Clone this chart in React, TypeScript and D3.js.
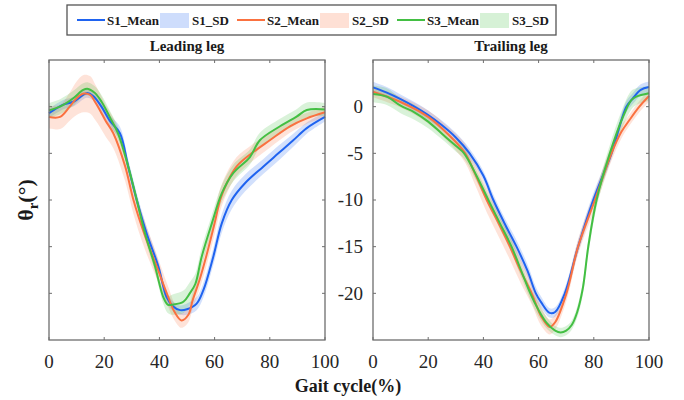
import React from 'react';
import * as d3 from 'd3';

// gait cycle (%) sample positions and joint angle (deg)
const leadS1Pct = [0, 5, 9, 13.7, 16, 19, 22, 25.7, 28.7, 31.8, 35.4, 39.6, 42.6, 45, 47.5, 50, 53.5, 56, 59.5, 62.6, 66.2, 71, 77.7, 83.1, 88.5, 93.4, 100];
const leadS1Mean = [-0.7, 0.2, 0.55, 1.45, 1.15, 0, -1.5, -2.85, -6.4, -10, -13.6, -17.1, -20.4, -21.4, -21.8, -21.7, -21.1, -19.6, -16.1, -12.5, -10, -8.2, -6.4, -5, -3.6, -2.3, -1.1];
const leadS1Sd = [0.5, 0.5, 0.5, 0.5, 0.5, 0.6, 0.6, 0.7, 0.7, 0.7, 0.7, 0.6, 0.6, 0.5, 0.5, 0.6, 0.7, 0.8, 0.9, 1.0, 1.0, 0.9, 0.8, 0.8, 0.7, 0.6, 0.5];

const leadS2Pct = [0, 4, 7.5, 10, 12.5, 15, 16.7, 18.5, 20.5, 23.3, 27.6, 30.6, 34.5, 39, 43.2, 45.5, 48, 50.5, 52, 54.5, 57, 60, 62, 64.4, 68, 73.4, 80, 87.3, 93.4, 100];
const leadS2Mean = [-1.1, -1.1, 0, 0.9, 1.4, 1.25, 0.5, -0.4, -1.5, -2.85, -6.4, -10, -13.6, -17.1, -20.4, -22, -22.9, -22.3, -20.8, -18.6, -16, -12.5, -10, -8.2, -6.4, -5, -3.6, -2.1, -1.25, -0.6];
const leadS2Sd = [1.2, 1.3, 1.5, 1.8, 2.0, 2.0, 1.9, 1.8, 1.7, 1.6, 1.6, 1.5, 1.5, 1.3, 1.1, 0.9, 0.8, 0.8, 0.9, 1.0, 1.1, 1.2, 1.2, 1.1, 1.0, 0.9, 0.8, 0.7, 0.6, 0.6];

const leadS3Pct = [0, 4, 8.8, 12.4, 14.2, 16.7, 19, 22, 25, 28.7, 31.8, 34.8, 38.4, 41.4, 43, 45, 48.7, 51, 53, 55.3, 59, 62.6, 66.8, 72.8, 76.4, 83.7, 89.7, 93.4, 100];
const leadS3Mean = [-0.4, 0, 0.9, 1.8, 1.9, 1.45, 0.55, -1.1, -2.85, -6.4, -10, -13.6, -17.1, -20.4, -21.2, -21.2, -20.9, -20, -19, -16.1, -12.5, -9.3, -7.1, -5.4, -3.6, -2.1, -1.07, -0.36, -0.3];
const leadS3Sd = [0.8, 0.8, 0.8, 0.7, 0.7, 0.7, 0.7, 0.7, 0.7, 0.6, 0.6, 0.6, 0.6, 0.7, 0.9, 1.1, 1.2, 1.2, 1.1, 1.0, 0.9, 0.9, 0.9, 0.8, 0.8, 0.8, 0.8, 0.8, 0.7];

const trailS1Pct = [0, 5, 10, 15, 20, 25, 30, 35, 40, 43.6, 48, 52, 56, 59, 61, 64, 66, 69.5, 74.3, 79.8, 86.4, 91.8, 94.2, 97, 100];
const trailS1Mean = [2.07, 1.5, 0.8, 0, -0.9, -2.0, -3.3, -5, -7.4, -10, -12.7, -15, -17.6, -20, -21, -22.1, -22, -20, -15, -10, -5, 0, 0.9, 1.8, 2.1];
const trailS1Sd = [0.6, 0.6, 0.5, 0.5, 0.5, 0.5, 0.5, 0.5, 0.5, 0.6, 0.6, 0.7, 0.7, 0.7, 0.6, 0.5, 0.5, 0.6, 0.7, 0.7, 0.6, 0.6, 0.6, 0.6, 0.6];

const trailS2Pct = [0, 10, 20, 27, 33.4, 37, 41.2, 45.5, 49.6, 53.5, 57.5, 61, 64, 66, 70.1, 74.3, 80.4, 86.4, 90, 93, 96.5, 100];
const trailS2Mean = [1.6, 0.5, -1.1, -2.9, -5, -7.2, -10, -12.5, -15, -17.6, -20, -22.5, -23.6, -23.1, -20, -15, -10, -5, -2.7, -1.4, 0, 1.14];
const trailS2Sd = [0.6, 0.6, 0.7, 0.8, 1.0, 1.2, 1.3, 1.4, 1.4, 1.3, 1.2, 1.0, 0.8, 0.8, 0.8, 0.8, 0.9, 0.8, 0.7, 0.6, 0.6, 0.6];

const trailS3Pct = [0, 5, 10, 15, 20, 25, 30, 33, 37.5, 41.8, 46, 50.2, 54, 57, 60, 63, 66, 68, 70, 72, 74, 76, 78, 81, 85.8, 90.6, 93.6, 95.4, 100];
const trailS3Mean = [1.36, 1.07, 0.1, -0.6, -1.6, -2.9, -4.2, -5, -7.4, -10, -12.5, -15, -17.8, -20, -21.8, -23.2, -24, -24.2, -24, -23.4, -22, -19.5, -15, -10, -5, -1.07, 0.7, 1.07, 1.43];
const trailS3Sd = [0.9, 0.9, 0.8, 0.8, 0.7, 0.6, 0.6, 0.6, 0.6, 0.6, 0.6, 0.7, 0.7, 0.7, 0.7, 0.6, 0.5, 0.5, 0.5, 0.5, 0.6, 0.7, 0.8, 0.8, 0.9, 1.0, 1.0, 0.9, 0.8];

const gaitTicks = [0, 20, 40, 60, 80, 100];
const angleTicks = [0, -5, -10, -15, -20];
const seriesNames = ['S1', 'S2', 'S3'];
const seriesColors = ['#1f63f0', '#fa7140', '#43bf43'];
const panelTitles = ['Leading leg', 'Trailing leg'];

const serif = "'Liberation Serif', 'Times New Roman', Times, 'DejaVu Serif', serif";
const txt = (size: number, bold = false): React.CSSProperties => ({
  fontFamily: serif,
  fontSize: size + 'px',
  fontWeight: bold ? 'bold' : 'normal',
});

type Pt = { p: number; m: number; s: number };
const zip = (pct: number[], mean: number[], sd: number[]): Pt[] => pct.map((p, i) => ({ p, m: mean[i], s: sd[i] }));

const panels = [
  {
    title: panelTitles[0],
    x0: 49,
    x1: 325,
    labels: false,
    series: [zip(leadS1Pct, leadS1Mean, leadS1Sd), zip(leadS2Pct, leadS2Mean, leadS2Sd), zip(leadS3Pct, leadS3Mean, leadS3Sd)],
  },
  {
    title: panelTitles[1],
    x0: 373,
    x1: 649,
    labels: true,
    series: [zip(trailS1Pct, trailS1Mean, trailS1Sd), zip(trailS2Pct, trailS2Mean, trailS2Sd), zip(trailS3Pct, trailS3Mean, trailS3Sd)],
  },
];

const top = 60;
const bottom = 340;

const Panel = ({ panel }: { panel: typeof panels[0] }) => {
  const x = d3.scaleLinear().domain([0, 100]).range([panel.x0, panel.x1]);
  const y = d3.scaleLinear().domain([-25, 5]).range([bottom, top]);
  const curve = d3.curveCatmullRom.alpha(0.5);
  const line = d3.line<Pt>().x(d => x(d.p)).y(d => y(d.m)).curve(curve);
  const area = d3.area<Pt>().x(d => x(d.p)).y0(d => y(d.m - d.s)).y1(d => y(d.m + d.s)).curve(curve);
  const tl = 3;
  const axisColor = '#6e6e6e';

  return (
    <g>
      {panel.series.map((s, i) => (
        <path key={'a' + i} d={area(s) || ''} fill={seriesColors[i]} fillOpacity={0.2} stroke="none" />
      ))}
      {panel.series.map((s, i) => (
        <path key={'l' + i} d={line(s) || ''} fill="none" stroke={seriesColors[i]} strokeWidth={2} />
      ))}
      <rect x={panel.x0} y={top} width={panel.x1 - panel.x0} height={bottom - top} fill="none" stroke={axisColor} strokeWidth={1.3} />
      {gaitTicks.map(t => (
        <g key={'xt' + t}>
          <line x1={x(t)} x2={x(t)} y1={bottom} y2={bottom - tl} stroke={axisColor} />
          <line x1={x(t)} x2={x(t)} y1={top} y2={top + tl} stroke={axisColor} />
          <text x={x(t)} y={368} textAnchor="middle" style={txt(19)} fill="#262626">{t}</text>
        </g>
      ))}
      {angleTicks.map(t => (
        <g key={'yt' + t}>
          <line x1={panel.x0} x2={panel.x0 + tl} y1={y(t)} y2={y(t)} stroke={axisColor} />
          <line x1={panel.x1} x2={panel.x1 - tl} y1={y(t)} y2={y(t)} stroke={axisColor} />
          {panel.labels && (
            <text x={panel.x0 - 10} y={y(t)} dy="0.34em" textAnchor="end" style={txt(19)} fill="#262626">{t}</text>
          )}
        </g>
      ))}
      <text x={(panel.x0 + panel.x1) / 2} y={51} textAnchor="middle" style={txt(15, true)} fill="#1a1a1a">
        {panel.title}
      </text>
    </g>
  );
};

const Legend = () => {
  const groupStep = 160;
  const startX = 77;
  const cy = 20;
  return (
    <g>
      <rect x={67} y={5} width={489} height={30} fill="#fff" stroke="#555" strokeWidth={1.3} />
      {seriesNames.map((name, i) => {
        const gx = startX + i * groupStep;
        return (
          <g key={name} style={txt(13, true)} fill="#1a1a1a">
            <line x1={gx} x2={gx + 28} y1={cy} y2={cy} stroke={seriesColors[i]} strokeWidth={2} />
            <text x={gx + 30} y={cy} dy="0.35em">{name + '_Mean'}</text>
            <rect x={gx + 83} y={13} width={29} height={15} fill={seriesColors[i]} fillOpacity={0.22} />
            <text x={gx + 115} y={cy} dy="0.35em">{name + '_SD'}</text>
          </g>
        );
      })}
    </g>
  );
};

export default function App() {
  return (
    <svg width={684} height={400} style={{ position: 'absolute', left: 0, top: 0, background: '#fff' }}>
      <rect x={0} y={0} width={684} height={400} fill="#fff" />
      {panels.map(p => (
        <Panel key={p.title} panel={p} />
      ))}
      <Legend />
      <text transform="translate(33,200) rotate(-90)" textAnchor="middle" style={txt(22, true)} fill="#1a1a1a">
        θ<tspan style={{ fontSize: '15px' }} dy={5}>r</tspan>
        <tspan dy={-5}>(°)</tspan>
      </text>
      <text x={348} y={392} textAnchor="middle" style={txt(18, true)} fill="#1a1a1a">
        Gait cycle(%)
      </text>
    </svg>
  );
}
